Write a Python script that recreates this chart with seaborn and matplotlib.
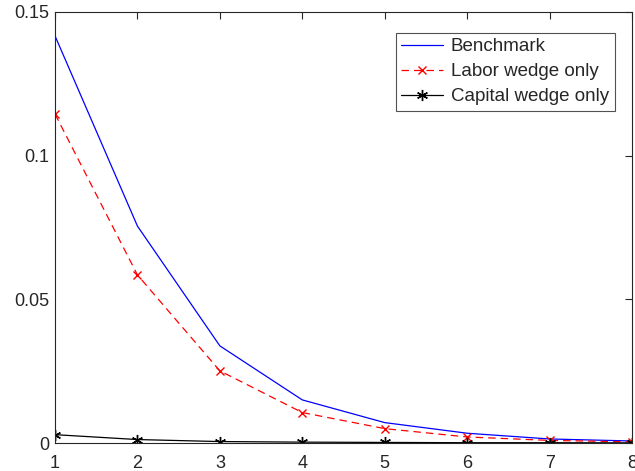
import matplotlib
matplotlib.use("Agg")
import matplotlib.pyplot as plt
import seaborn as sns
import pandas as pd

periods = [1, 2, 3, 4, 5, 6, 7, 8]
benchmark = [0.1417, 0.0755, 0.0338, 0.0150, 0.0071, 0.0034, 0.0014, 0.0007]
labor_only = [0.1145, 0.0585, 0.0251, 0.0106, 0.0050, 0.0021, 0.0009, 0.0004]
capital_only = [0.0029, 0.0012, 0.0005, 0.0003, 0.0002, 0.0001, 0.0001, 0.00005]
series_names = ["Benchmark", "Labor wedge only", "Capital wedge only"]

sns.set_style("white")
plt.rcParams["font.family"] = ["Liberation Sans", "DejaVu Sans"]
plt.rcParams["font.size"] = 13

fig = plt.figure(figsize=(6.35, 4.71), dpi=100)
ax = fig.add_axes([55 / 635, 1 - 443 / 471, 577 / 635, 431 / 471])

df = pd.DataFrame({"t": periods, "Benchmark": benchmark,
                   "Labor wedge only": labor_only,
                   "Capital wedge only": capital_only})

sns.lineplot(data=df, x="t", y="Benchmark", ax=ax, color="#0000ff",
             linewidth=0.9, label=series_names[0])
sns.lineplot(data=df, x="t", y="Labor wedge only", ax=ax, color="#ff0000",
             linewidth=0.9, linestyle=(0, (6, 4)), marker="x", markersize=6,
             markeredgewidth=1.0, markeredgecolor="#ff0000",
             label=series_names[1])
sns.lineplot(data=df, x="t", y="Capital wedge only", ax=ax, color="black",
             linewidth=0.9, marker=(6, 2, 0), markersize=8,
             markeredgewidth=1.0, markeredgecolor="black",
             label=series_names[2])

ax.set_xlim(1, 8)
ax.set_ylim(0, 0.15)
ax.set_xticks(periods)
ax.set_yticks([0, 0.05, 0.1, 0.15])
ax.set_yticklabels(["0", "0.05", "0.1", "0.15"])
ax.set_xlabel("")
ax.set_ylabel("")

for side in ["left", "right", "top", "bottom"]:
    ax.spines[side].set_visible(True)
    ax.spines[side].set_color("#262626")
    ax.spines[side].set_linewidth(0.8)
ax.tick_params(axis="both", direction="in", length=5, width=0.8,
               colors="#262626", labelsize=13, top=True, right=True,
               labelcolor="#262626")
ax.tick_params(axis="x", pad=9)
ax.tick_params(axis="y", pad=4)

leg = ax.legend(loc="upper right", bbox_to_anchor=(0.97, 0.952), fontsize=13.5,
                frameon=True, fancybox=False, borderpad=0.3,
                handlelength=2.2, handletextpad=0.45, labelspacing=0.42,
                borderaxespad=0)
leg.get_frame().set_edgecolor("#262626")
leg.get_frame().set_linewidth(0.8)

fig.savefig("out.png", dpi=100)
